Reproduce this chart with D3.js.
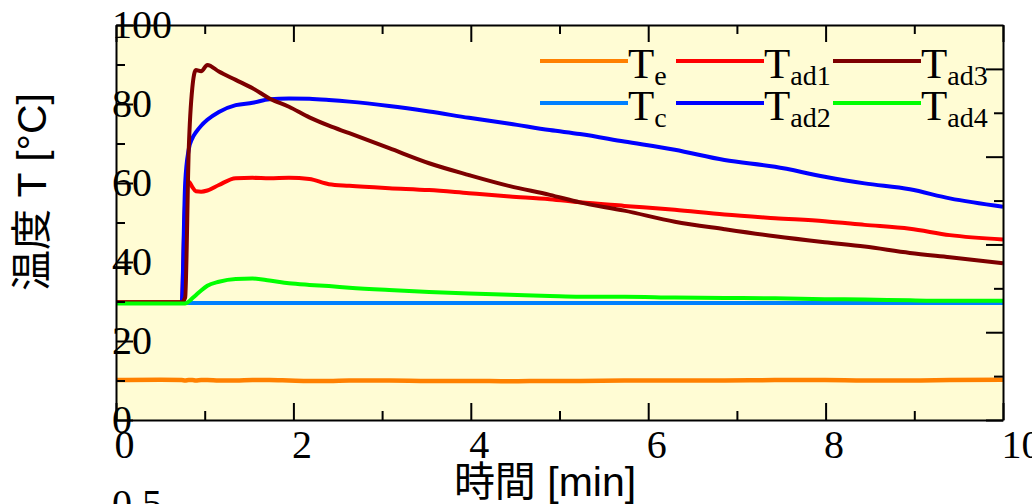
<!DOCTYPE html>
<html>
<head>
<meta charset="utf-8">
<script src="https://cdn.jsdelivr.net/npm/d3@7"></script>
<style>
body { margin: 0; background: #ffffff; }
.axis text { font-family: "Liberation Serif", "DejaVu Serif", serif; font-size: 40px; fill: #000; }
.axis line, .axis path { stroke: #000; stroke-width: 2; }
.title { font-family: "Liberation Sans", "Noto Sans CJK JP", sans-serif; font-size: 41px; fill: #000; }
.legend text { font-family: "Liberation Serif", "DejaVu Serif", serif; fill: #000; }
</style>
</head>
<body>
<script>
// time in minutes
var time = [0, 0.5, 0.74, 0.78, 0.82, 0.86, 0.9, 0.96, 1.03, 1.16, 1.35, 1.54, 1.73, 1.95, 2.18, 2.4,
    2.63, 3.08, 3.53, 3.98, 4.44, 4.89, 5.23, 5.73, 6.3, 6.86, 7.43, 7.99, 8.44, 8.95, 9.4, 10];

// temperatures [°C]
var Te = [10.1, 10.2, 10.1, 10.0, 10.1, 10.1, 10.0, 10.1, 10.1, 10.0, 10.0, 10.1, 10.1, 10.0, 9.9, 9.9,
    10.0, 10.0, 9.9, 9.9, 9.8, 9.9, 9.9, 10.0, 10.0, 10.0, 10.1, 10.1, 10.0, 10.0, 10.1, 10.2];
var Tc = [29.6, 29.6, 29.6, 29.6, 29.6, 29.6, 29.6, 29.6, 29.6, 29.6, 29.6, 29.6, 29.6, 29.6, 29.6, 29.6,
    29.6, 29.6, 29.6, 29.6, 29.6, 29.6, 29.6, 29.6, 29.6, 29.6, 29.6, 29.6, 29.6, 29.6, 29.6, 29.6];
var Tad1 = [29.8, 29.8, 29.8, 55, 60.3, 59, 57.9, 57.8, 58.1, 59.5, 61.2, 61.3, 61.2, 61.3, 61.0, 59.7,
    59.3, 58.7, 58.2, 57.4, 56.6, 55.9, 55.1, 54.2, 53.2, 52.0, 51.1, 50.3, 49.4, 48.4, 46.8, 45.7];
var Tad2 = [29.6, 29.6, 29.6, 60, 68.5, 71.3, 72.8, 74.5, 76.0, 78.0, 79.7, 80.3, 81.2, 81.4, 81.3, 81.0,
    80.6, 79.5, 78.1, 76.5, 75.0, 73.4, 72.4, 70.5, 68.4, 65.8, 64.1, 61.6, 59.9, 58.4, 56.1, 54.0];
var Tad3 = [29.8, 29.8, 29.8, 31, 68.4, 84, 88.6, 88.3, 89.9, 88.2, 86.1, 84.0, 81.4, 79.3, 76.6, 74.5,
    72.6, 68.8, 65.0, 62.0, 59.2, 57.0, 55.1, 53.0, 50.2, 48.3, 46.5, 45.0, 43.9, 42.3, 41.2, 39.7];
var Tad4 = [29.5, 29.5, 29.5, 29.5, 30.0, 30.8, 31.6, 32.8, 34.0, 35.0, 35.7, 35.8, 35.3, 34.6, 34.2, 33.9,
    33.5, 32.9, 32.4, 32.0, 31.7, 31.4, 31.2, 31.2, 31.0, 30.9, 30.8, 30.6, 30.5, 30.3, 30.2, 30.2];

var seriesSub = ["e", "c", "ad1", "ad2", "ad3", "ad4"];
var seriesValues = [Te, Tc, Tad1, Tad2, Tad3, Tad4];
var seriesColors = ["#ff8000", "#0080ff", "#ff0000", "#0000ff", "#7d0000", "#00ff00"];

var xMajor = [0, 2, 4, 6, 8, 10];
var xMinor = [1, 3, 5, 7, 9];
var yMajor = [0, 20, 40, 60, 80, 100];
var yMinor = [10, 30, 50, 70, 90];

let outerWidth = 1032;
let outerHeight = 504;
let plot = {left: 116, right: 1003, top: 25, bottom: 420};

let svg = d3.select("body")
    .append("svg")
    .attr("width", outerWidth)
    .attr("height", outerHeight);

let xScale = d3.scaleLinear().domain([0, 10]).range([plot.left, plot.right]);
let yScale = d3.scaleLinear().domain([0, 100]).range([plot.bottom, plot.top]);
// right side has its own (unlabelled) scale
let yRight = d3.scaleLinear().domain([0, 0.9]).range([plot.bottom, plot.top]);

// plot background
svg.append("rect")
    .attr("x", plot.left)
    .attr("y", plot.top)
    .attr("width", plot.right - plot.left)
    .attr("height", plot.bottom - plot.top)
    .attr("fill", "#fffcd4");

// data lines
let lineGenerator = d3.line()
    .x(function(d) { return xScale(d[0]); })
    .y(function(d) { return yScale(d[1]); })
    .curve(d3.curveMonotoneX);

let lineGroup = svg.append("g").attr("class", "lines");
seriesValues.forEach(function(vals, i) {
    let pts = time.map(function(t, j) { return [t, vals[j]]; });
    lineGroup.append("path")
        .attr("d", lineGenerator(pts))
        .attr("fill", "none")
        .attr("stroke", seriesColors[i])
        .attr("stroke-width", i == 0 ? 4.5 : 4)
        .attr("stroke-linejoin", "round");
});

// axes, ticks point inward
function minorAxis(axis, values, transform) {
    let g = svg.append("g")
        .attr("class", "axis")
        .attr("transform", transform)
        .call(axis.tickValues(values).tickSize(-9).tickFormat(""));
    g.select(".domain").remove();
}

let bottomAxis = svg.append("g")
    .attr("class", "axis")
    .attr("transform", "translate(0," + plot.bottom + ")")
    .call(d3.axisBottom(xScale).tickValues(xMajor).tickSizeInner(-17).tickSizeOuter(0).tickPadding(10));
bottomAxis.selectAll("text").attr("text-anchor", "start").attr("x", -2);
minorAxis(d3.axisBottom(xScale), xMinor, "translate(0," + plot.bottom + ")");

svg.append("g")
    .attr("class", "axis")
    .attr("transform", "translate(0," + plot.top + ")")
    .call(d3.axisTop(xScale).tickValues(xMajor).tickSizeInner(-17).tickSizeOuter(0).tickFormat(""));
minorAxis(d3.axisTop(xScale), xMinor, "translate(0," + plot.top + ")");

let leftAxis = svg.append("g")
    .attr("class", "axis")
    .attr("transform", "translate(" + plot.left + ",0)")
    .call(d3.axisLeft(yScale).tickValues(yMajor).tickSizeInner(-17).tickSizeOuter(0));
leftAxis.selectAll("text").attr("text-anchor", "start").attr("x", -4);
minorAxis(d3.axisLeft(yScale), yMinor, "translate(" + plot.left + ",0)");

svg.append("g")
    .attr("class", "axis")
    .attr("transform", "translate(" + plot.right + ",0)")
    .call(d3.axisRight(yRight).tickValues([0, 0.2, 0.4, 0.6, 0.8]).tickSizeInner(-17).tickSizeOuter(0).tickFormat(""));
minorAxis(d3.axisRight(yRight), [0.1, 0.3, 0.5, 0.7], "translate(" + plot.right + ",0)");

// axis titles
svg.append("text")
    .attr("class", "title")
    .attr("x", 545)
    .attr("y", 496)
    .style("text-anchor", "middle")
    .text("時間 [min]");

svg.append("text")
    .attr("class", "title")
    .attr("transform", "translate(46,192) rotate(-90)")
    .style("text-anchor", "middle")
    .text("温度 T [°C]");

// tick label of the panel below, cut by the page edge
svg.append("text")
    .attr("class", "axis")
    .attr("x", 112)
    .attr("y", 517)
    .style("font-family", "Liberation Serif")
    .style("font-size", "40px")
    .text("0.5");

// legend: three columns, two rows
let legendCols = [540, 676, 833];
let legendRows = [61, 103];
let legend = svg.append("g").attr("class", "legend");
seriesSub.forEach(function(sub, i) {
    let lx = legendCols[Math.floor(i / 2)];
    let ly = legendRows[i % 2];
    legend.append("line")
        .attr("x1", lx)
        .attr("x2", lx + 88)
        .attr("y1", ly)
        .attr("y2", ly)
        .attr("stroke", seriesColors[i])
        .attr("stroke-width", 4);
    let t = legend.append("text")
        .attr("x", lx + 88)
        .attr("y", ly + 17);
    t.append("tspan").style("font-size", "43px").text("T");
    t.append("tspan").style("font-size", "28px").attr("dy", 7).text(sub);
});
</script>
</body>
</html>
